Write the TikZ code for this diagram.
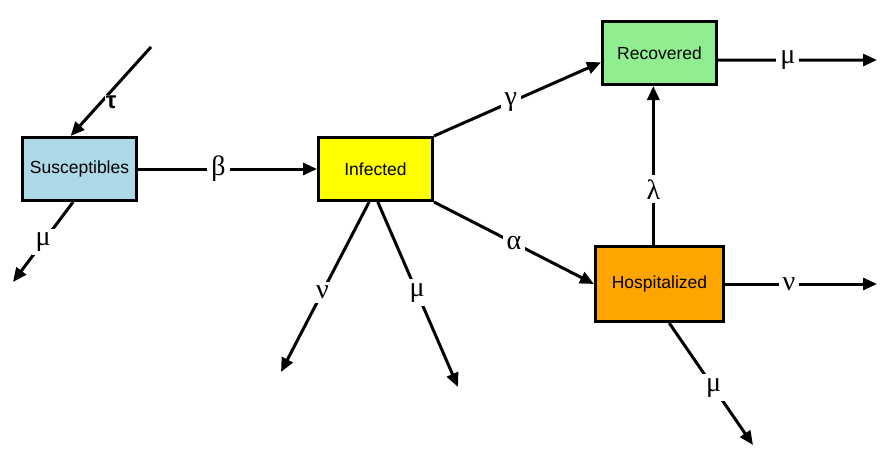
\documentclass[tikz,border=0pt]{standalone}
\usepackage{fontspec}
\setmainfont{Liberation Serif}
\setsansfont{Liberation Sans}
\usetikzlibrary{positioning, arrows.meta}

\definecolor{suscol}{RGB}{173,216,230}
\definecolor{infcol}{RGB}{255,255,0}
\definecolor{reccol}{RGB}{144,238,144}
\definecolor{hoscol}{RGB}{255,165,0}

\begin{document}
\begin{tikzpicture}[
  x=1pt, y=-1pt,
  comp/.style={draw, line width=3pt, minimum width=114pt, minimum height=63pt,
               align=center, font=\sffamily\fontsize{17.5}{20}\selectfont},
  comp_big/.style={comp, minimum width=128pt, minimum height=75pt},
  arr/.style={-{Triangle[length=14pt,width=12pt]}, line width=3pt},
  rate/.style={fill=white, inner sep=4pt, font=\fontsize{28}{30}\selectfont},
]
\useasboundingbox (0,0) rectangle (883,460);

% Compartments
\node[comp, fill=suscol] (sus) at (79.5,169) {Susceptibles};
\node[comp, fill=infcol, right=179pt of sus] (inf) {Infected};
\node[comp, fill=reccol, above right=50pt and 167pt of inf] (rec) {Recovered};
\node[comp_big, fill=hoscol, below right=43pt and 160pt of inf] (hos) {Hospitalized};

% Free ends
\coordinate (tauin) at (151,47);
\coordinate (susout) at (13,282);
\coordinate (infnu) at (281,372);
\coordinate (infmu) at (458,387);
\coordinate (recout) at (877,60);
\coordinate (hosnu) at (877,284);
\coordinate (hosmu) at (753,445);

% Flows
\draw[arr] (tauin) -- node[rate, pos=0.62, xshift=10pt, inner sep=1pt,
  font=\sffamily\bfseries\fontsize{24}{26}\selectfont] {τ} (sus.105);
\draw[arr] (sus.259) -- node[rate] {μ} (susout);
\draw[arr] (sus) -- node[rate, pos=0.45] {β} (inf);
\draw[arr] (inf.259) -- node[rate, pos=0.53] {ν} (infnu);
\draw[arr] (inf.274) -- node[rate, pos=0.49] {μ} (infmu);
\draw[arr] (inf.north east) -- node[rate, pos=0.46] {γ} (rec.189);
\draw[arr] (inf.south east) -- node[rate] {α} (hos.west);
\draw[arr] (hos.99) -- node[rate, pos=0.35] {λ} (hos.99 |- rec.south);
\draw[arr] (rec.353) -- node[rate, pos=0.44] {μ} (recout);
\draw[arr] (hos.east) -- node[rate, pos=0.42] {ν} (hosnu);
\draw[arr] (hos.284) -- node[rate, pos=0.53] {μ} (hosmu);

\end{tikzpicture}
\end{document}
